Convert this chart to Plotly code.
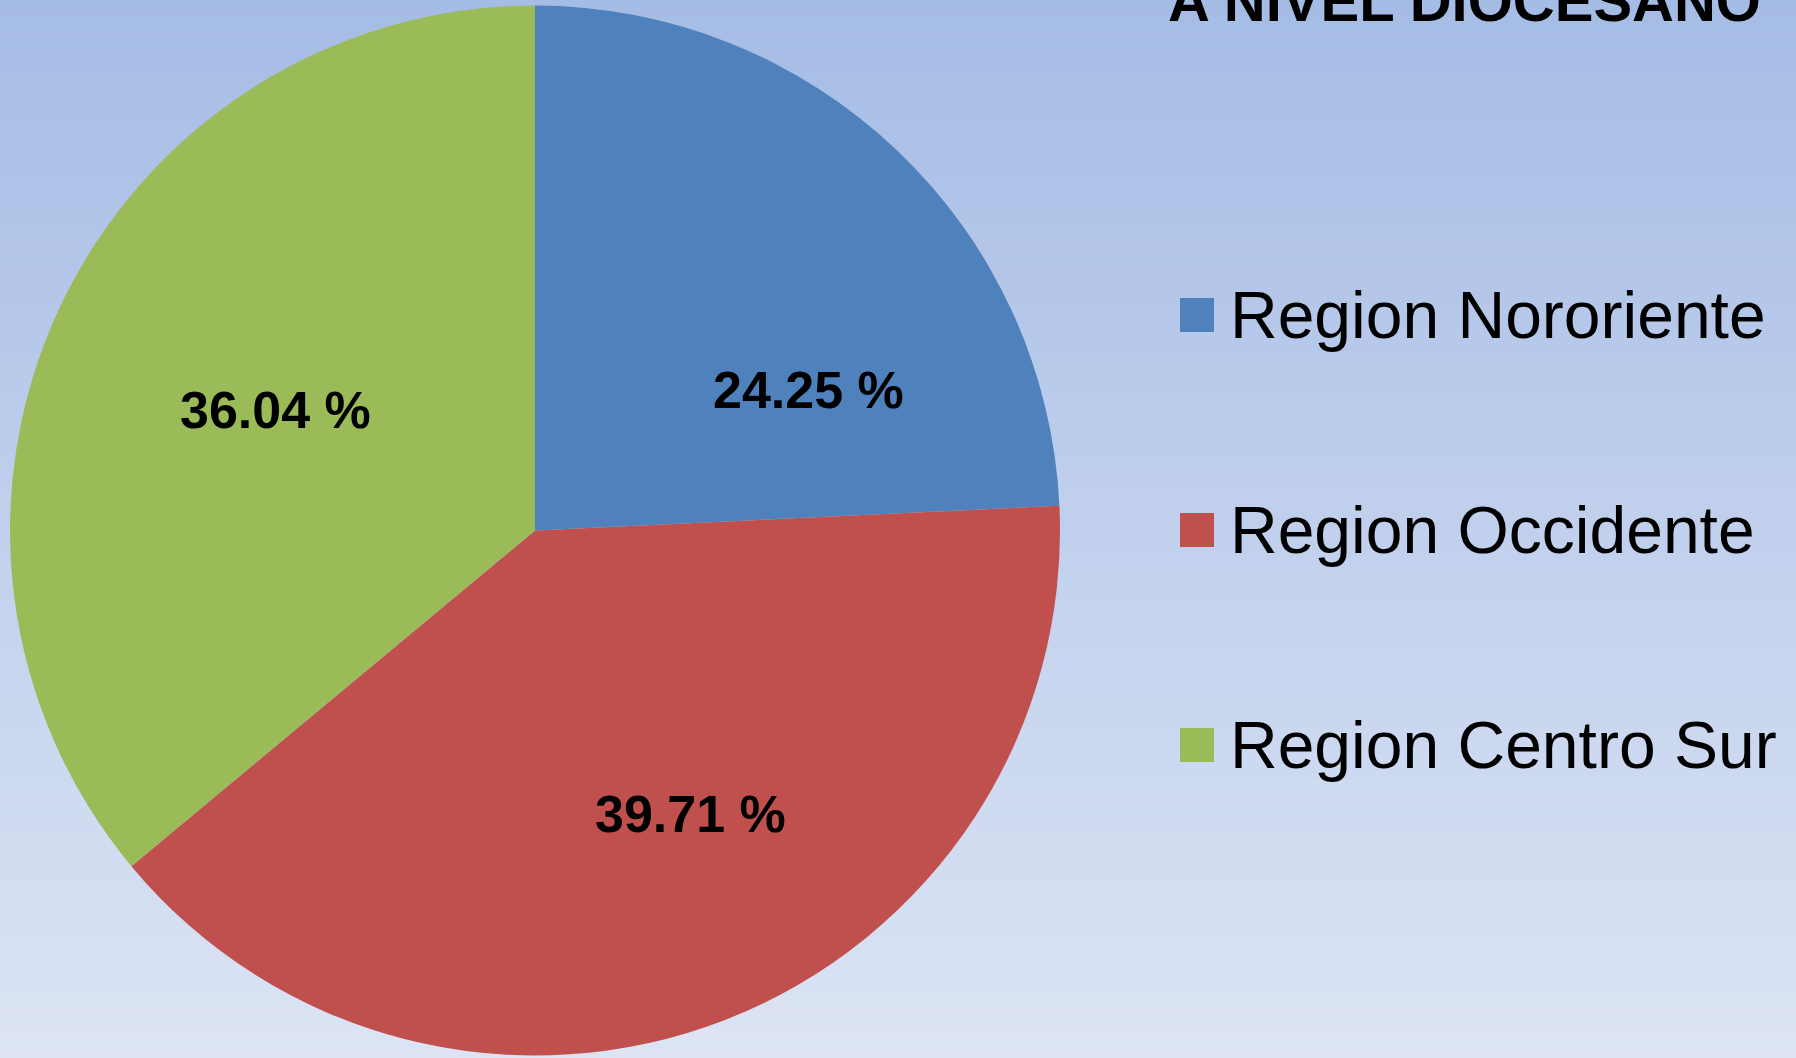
import plotly.graph_objects as go

# ---- data ----
categories = ["Region Nororiente", "Region Occidente", "Region Centro Sur"]
values = [24.25, 39.71, 36.04]
title_text = "A NIVEL DIOCESANO"

# ---- style / layout ----
W, H = 1796, 1058
colors = ["#4F81BD", "#C0504D", "#9BBB59"]
FONT = "Liberation Sans, Arial, sans-serif"
bg_top = (165, 188, 229)
bg_bot = (220, 228, 244)

# label centres (pixels) as placed by the original "best fit" layout
label_px = [(808, 390), (690, 814), (275, 410)]
legend_square_x = (1180, 1214)
legend_rows_y = [315, 530, 745]
legend_text_x = 1228


def px(x):
    return x / W


def py(y):
    return 1 - y / H


fig = go.Figure()
fig.add_trace(go.Pie(
    labels=categories,
    values=values,
    sort=False,
    direction="clockwise",
    rotation=0,
    marker=dict(colors=colors, line=dict(width=0)),
    textinfo="none",
    hoverinfo="label+percent",
    showlegend=False,
    domain=dict(x=[px(10), px(1060)], y=[py(1055.5), py(5.5)]),
))

shapes = []
# vertical gradient background
n = 212
for i in range(n):
    t = i / (n - 1)
    c = tuple(round(bg_top[k] + (bg_bot[k] - bg_top[k]) * t) for k in range(3))
    shapes.append(dict(
        type="rect", xref="paper", yref="paper", layer="below",
        x0=0, x1=1, y0=1 - (i + 1) / n - 0.001, y1=1 - i / n,
        fillcolor="rgb(%d,%d,%d)" % c, line=dict(width=0),
    ))

annotations = []
# data labels
for v, (lx, ly) in zip(values, label_px):
    annotations.append(dict(
        x=px(lx), y=py(ly), xref="paper", yref="paper",
        text=f"{v:.2f} %", showarrow=False,
        xanchor="center", yanchor="middle",
        font=dict(family=FONT, size=52, color="black", weight="bold"),
    ))

# legend
for cat, col, ry in zip(categories, colors, legend_rows_y):
    shapes.append(dict(
        type="rect", xref="paper", yref="paper", layer="above",
        x0=px(legend_square_x[0]), x1=px(legend_square_x[1]),
        y0=py(ry + 17), y1=py(ry - 17),
        fillcolor=col, line=dict(width=0),
    ))
    annotations.append(dict(
        x=px(legend_text_x), y=py(ry), xref="paper", yref="paper",
        text=cat, showarrow=False, xanchor="left", yanchor="middle",
        font=dict(family=FONT, size=66, color="black"),
    ))

# title (partly cut off at the top, as in the original)
annotations.append(dict(
    x=px(1763), y=py(0), xref="paper", yref="paper",
    text=title_text, showarrow=False, xanchor="right", yanchor="middle",
    font=dict(family=FONT, size=58, color="black", weight="bold"),
))

fig.update_layout(
    width=W, height=H,
    margin=dict(l=0, r=0, t=0, b=0),
    paper_bgcolor="rgb(%d,%d,%d)" % bg_top,
    plot_bgcolor="rgba(0,0,0,0)",
    shapes=shapes,
    annotations=annotations,
    showlegend=False,
)

fig.write_html(
    "out.html",
    config={"displayModeBar": False},
    post_script="document.body.style.margin='0';document.body.style.overflow='hidden';",
)
